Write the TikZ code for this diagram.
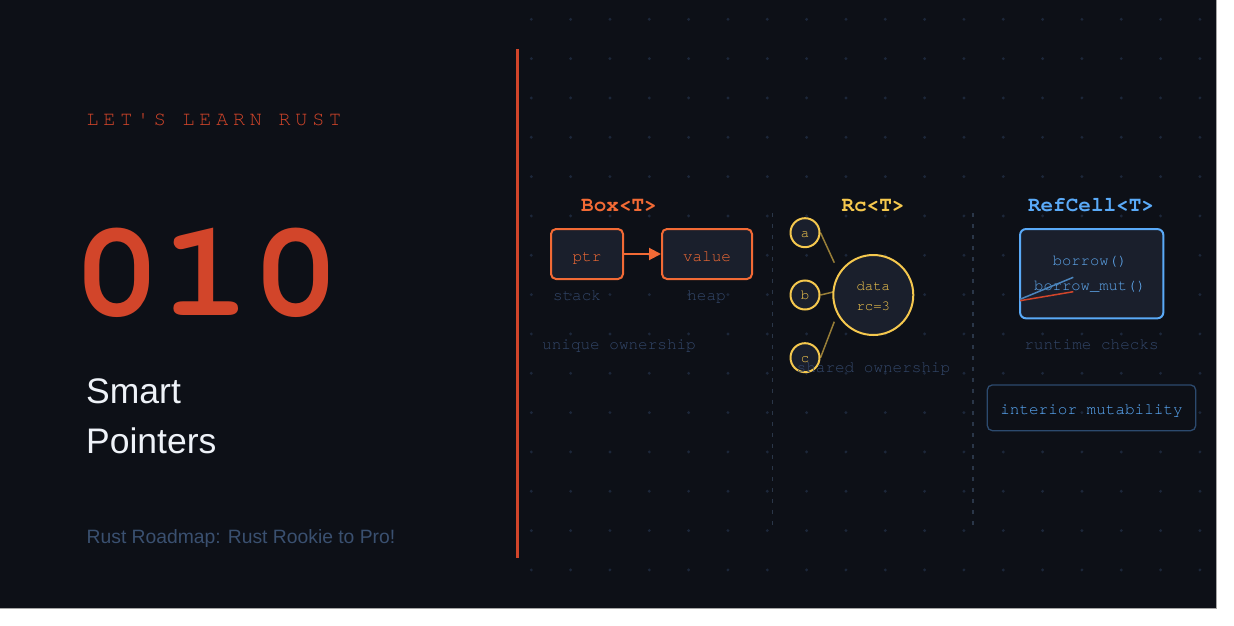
\documentclass[tikz,border=0pt]{standalone}
\usepackage{fontspec}
\setmainfont{Liberation Sans}
\newfontfamily\monofont{TeX Gyre Cursor}
\newfontfamily\spacedmono[LetterSpace=24]{TeX Gyre Cursor}
\usetikzlibrary{arrows.meta}
\definecolor{bgdark}{HTML}{0D1017}
\definecolor{boxfill}{HTML}{1A1F2C}
\definecolor{rustred}{HTML}{D2452A}
\definecolor{boxorange}{HTML}{F26A35}
\definecolor{dimtext}{HTML}{33476A}
\definecolor{roadmap}{HTML}{3A5070}
\definecolor{titlewhite}{HTML}{EEF2F8}
\definecolor{rcyellow}{HTML}{F5C84E}
\definecolor{cellblue}{HTML}{5AAAF8}
\definecolor{borrowblue}{HTML}{5EA6EC}
\definecolor{interiorline}{HTML}{2C4A6E}
\definecolor{dotc}{HTML}{1C273A}
\definecolor{dashc}{HTML}{2A3648}
\tikzset{
  lbl/.style={inner sep=0, anchor=base},
  monolbl/.style={lbl, font=\fontsize{16}{16}\selectfont\monofont},
  dimlbl/.style={monolbl, text=dimtext},
  obox/.style={draw=boxorange, line width=2, fill=boxfill, rounded corners=5, minimum height=50, inner sep=0},
  ysmall/.style={circle, draw=rcyellow, line width=2, fill=boxfill, minimum size=29, inner sep=0},
  ybig/.style={circle, draw=rcyellow, line width=2, fill=boxfill, minimum size=80, inner sep=0},
  ylink/.style={draw=rcyellow, draw opacity=0.6, line width=1.5},
  sep/.style={draw=dashc, line width=1.3, dash pattern=on 4 off 7},
}
\begin{document}
\begin{tikzpicture}[x=1pt,y=-1pt]
\useasboundingbox (0,0) rectangle (1234,626);
\fill[white] (0,0) rectangle (1234,626);
\fill[bgdark] (0,0) rectangle (1216,608);
\draw[gray!70, line width=0.8] (1216,0) -- (1216,608) -- (0,608);
% dot grid
\foreach \i in {0,...,17} {
  \foreach \j in {0,...,14} {
    \fill[dotc] (531.3+39.33*\i, 19.3+39.33*\j) circle (1.6);
  }
}
% separators
\draw[rustred, line width=3] (517.3,49) -- (517.3,558);
\draw[sep] (772.7,213) -- (772.7,529);
\draw[sep] (973,213) -- (973,529);
% left side
\node[lbl, anchor=base west, text=rustred, font=\fontsize{20}{20}\selectfont\spacedmono] (kicker) at (86.5,125.7) {LET'S LEARN RUST};
\node[lbl, anchor=base west, text=rustred, font=\fontsize{149}{149}\selectfont\monofont\bfseries, yscale=0.92, transform shape] (num) at (72,315) {010};
\node[lbl, anchor=base west, text=titlewhite, font=\fontsize{35.5}{35.5}\selectfont] (smart) at (86,403.3) {Smart};
\node[lbl, anchor=base west, text=titlewhite, font=\fontsize{35.5}{35.5}\selectfont] (pointers) at (86,453.3) {Pointers};
\node[lbl, anchor=base west, text=roadmap, font=\fontsize{19.3}{19.3}\selectfont] (road) at (86.5,543.3) {Rust Roadmap: Rust Rookie to Pro!};
% Box<T>
\node[lbl, text=boxorange, font=\fontsize{21}{21}\selectfont\monofont\bfseries] (boxtitle) at (619,211) {Box<T>};
\node[obox, minimum width=72] (ptrbox) at (587,254) {};
\node[obox, minimum width=90] (valbox) at (707,254) {};
\node[monolbl, text=boxorange] (ptr) at (587,261.5) {ptr};
\node[monolbl, text=boxorange] (value) at (707,261.5) {value};
\draw[boxorange, line width=2, -{Triangle[length=12, width=12]}] (ptrbox.east) -- (valbox.west);
\node[dimlbl] (stack) at (577,300.7) {stack};
\node[dimlbl] (heap) at (706.5,300.7) {heap};
\node[dimlbl] (unique) at (619,349) {unique ownership};
% Rc<T>
\node[lbl, text=rcyellow, font=\fontsize{21}{21}\selectfont\monofont\bfseries] (rctitle) at (873,211) {Rc<T>};
\coordinate (ja) at (834.3,262.7);
\coordinate (jb) at (834.3,291.7);
\coordinate (jc) at (834.3,321.7);
\node[ysmall] (ca) at (805,232.7) {};
\node[ysmall] (cb) at (805,295) {};
\node[ysmall] (cc) at (805,357.7) {};
\draw[ylink] (ca.east) -- (ja);
\draw[ylink] (cb.east) -- (jb);
\draw[ylink] (cc.east) -- (jc);
\node[ybig] (data) at (873.3,295) {};
\node[lbl, text=rcyellow, font=\fontsize{14}{14}\selectfont\monofont] (la) at (805,237.5) {a};
\node[lbl, text=rcyellow, font=\fontsize{14}{14}\selectfont\monofont] (lb) at (805,299.8) {b};
\node[lbl, text=rcyellow, font=\fontsize{14}{14}\selectfont\monofont] (lc) at (805,362.5) {c};
\node[lbl, text=rcyellow, font=\fontsize{14}{14}\selectfont\monofont] (datatxt) at (873.3,290) {data};
\node[lbl, text=rcyellow, font=\fontsize{14}{14}\selectfont\monofont] (rctxt) at (873.3,310) {rc=3};
\node[dimlbl] (shared) at (873.5,372.7) {shared ownership};
% RefCell<T>
\node[lbl, text=cellblue, font=\fontsize{21}{21}\selectfont\monofont\bfseries] (celltitle) at (1091,211) {RefCell<T>};
\node[draw=cellblue, line width=2, fill=boxfill, rounded corners=6, minimum width=143.3, minimum height=89.3, inner sep=0] (cellbox) at (1091.7,273.7) {};
\node[lbl, text=borrowblue, font=\fontsize{15.5}{15.5}\selectfont\monofont] (borrow) at (1090,265) {borrow()};
\node[lbl, text=borrowblue, font=\fontsize{15.5}{15.5}\selectfont\monofont] (borrowmut) at (1090,290) {borrow\_mut()};
\coordinate (bl0) at (1020,299.3);
\coordinate (bl1) at (1073.3,277.3);
\coordinate (ol0) at (1020,300.7);
\coordinate (ol1) at (1073.3,291.7);
\draw[draw=borrowblue!80!black, line width=1.5] (bl0) -- (bl1);
\draw[draw=rustred, line width=1.5] (ol0) -- (ol1);
\node[dimlbl] (runtime) at (1091.5,349) {runtime checks};
\node[draw=interiorline, line width=1.3, rounded corners=5, minimum width=208.4, minimum height=45.7, inner sep=0] (intbox) at (1091.5,407.8) {};
\node[monolbl, text=cellblue] (interior) at (1091.5,414.5) {interior mutability};
\end{tikzpicture}
\end{document}
